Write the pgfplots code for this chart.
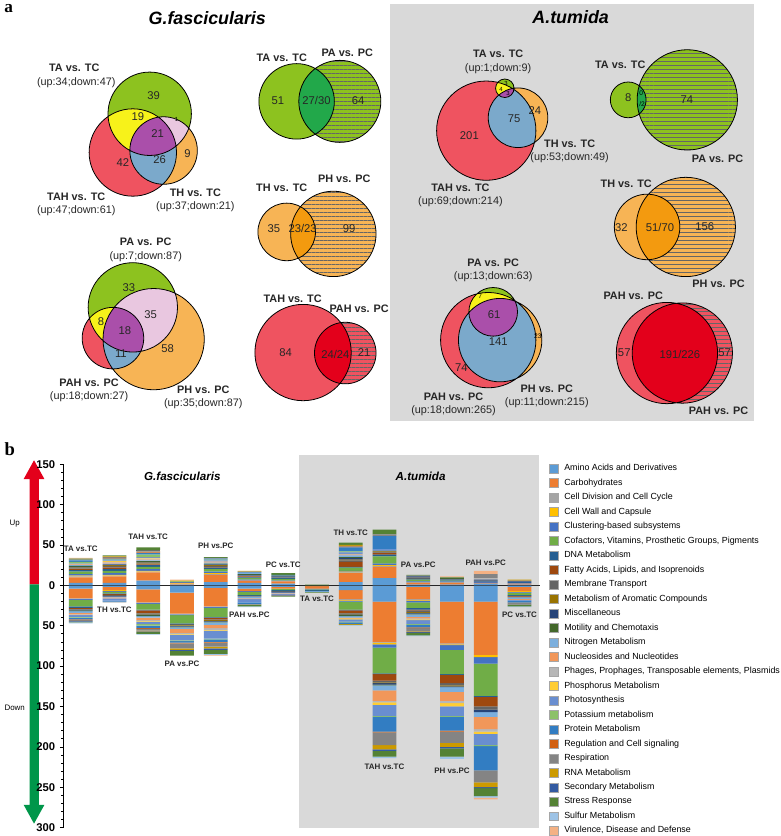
\documentclass[border=0pt]{standalone}
\usepackage{fontspec}
\setmainfont{Liberation Sans}
\newfontfamily\serifface{Liberation Serif}
\usepackage{pgfplots}
\pgfplotsset{compat=1.18}
\usepackage{pgfplotstable}
\usetikzlibrary{patterns.meta}
\newcommand\fs[1]{\fontsize{#1}{#1}\selectfont}

\definecolor{cat1}{HTML}{5B9BD5}\definecolor{cat2}{HTML}{ED7D31}\definecolor{cat3}{HTML}{A5A5A5}
\definecolor{cat4}{HTML}{FFC000}\definecolor{cat5}{HTML}{4472C4}\definecolor{cat6}{HTML}{70AD47}
\definecolor{cat7}{HTML}{255E91}\definecolor{cat8}{HTML}{9E480E}\definecolor{cat9}{HTML}{636363}
\definecolor{cat10}{HTML}{997300}\definecolor{cat11}{HTML}{264478}\definecolor{cat12}{HTML}{43682B}
\definecolor{cat13}{HTML}{7CAFDD}\definecolor{cat14}{HTML}{F1975A}\definecolor{cat15}{HTML}{B7B7B7}
\definecolor{cat16}{HTML}{FFCD33}\definecolor{cat17}{HTML}{698ED0}\definecolor{cat18}{HTML}{8CC168}
\definecolor{cat19}{HTML}{327DC2}\definecolor{cat20}{HTML}{D26012}\definecolor{cat21}{HTML}{848484}
\definecolor{cat22}{HTML}{CC9A00}\definecolor{cat23}{HTML}{335AA1}\definecolor{cat24}{HTML}{548235}
\definecolor{cat25}{HTML}{9DC3E6}\definecolor{cat26}{HTML}{F4B183}
\definecolor{vgreen}{HTML}{8DC21F}\definecolor{vred}{HTML}{EF5360}\definecolor{vorange}{HTML}{F7B455}
\definecolor{vyellow}{HTML}{F7F21A}\definecolor{vpurple}{HTML}{AA4FAA}\definecolor{vblue}{HTML}{7BA9CB}
\definecolor{vpink}{HTML}{E9C7E0}\definecolor{lgreen}{HTML}{22A84A}\definecolor{lorange}{HTML}{F39A0F}
\definecolor{lred}{HTML}{E3001B}\definecolor{bggray}{HTML}{D9D9D9}
\definecolor{arrred}{HTML}{E3001B}\definecolor{arrgreen}{HTML}{00964A}

\pgfplotstableread{
x c1 c2 c3 c4 c5 c6 c7 c8 c9 c10 c11 c12 c13 c14 c15 c16 c17 c18 c19 c20 c21 c22 c23 c24 c25 c26
1 3 7 1 1 2 3 2 1 1 1 1 1 1 1 0 0 1 2 2 0 1 0 0 1 0 1
2 3 8 1 1 2 3 2 2 2 1 1 0 1 1 1 1 1 1 1 1 1 1 0 1 0 0
3 6 10 1 1 2 3 2 1 1 1 1 1 1 1 1 1 1 3 2 1 1 1 1 3 0 0
4 1 1 0 1 1 1 0 0 0 0 0 0 0 0 0 0 0 0 0 0 0 1 0 0 0 1
5 4 9 1 1 2 3 2 1 1 1 1 1 1 1 1 0 1 1 1 0 1 0 0 1 0 0
6 3 3 0 0 1 2 1 1 1 0 1 1 1 0 0 0 0 0 1 0 1 1 0 0 0 0
7 2 3 0 0 1 2 1 0 1 0 1 1 0 0 0 0 0 0 1 0 0 0 0 2 0 0
8 0 0 0 0 0 0 0 0 0 0 0 0 0 0 0 0 0 0 0 0 0 0 0 1 0 0
9 4 11 1 1 1 4 1 6 2 1 2 1 2 1 1 0 2 1 5 1 1 1 0 3 0 0
10 9 14 1 1 2 9 2 2 1 1 1 0 1 0 0 0 1 0 16 0 2 0 0 6 0 0
11 1 2 1 0 1 2 1 0 2 0 1 0 0 0 0 0 0 0 0 0 1 0 0 1 0 0
12 1 2 1 0 1 1 1 0 1 0 0 1 0 0 0 0 0 0 0 0 0 0 0 1 0 1
13 2 1 0 0 1 0 1 0 1 0 1 0 0 0 2 0 0 0 0 0 5 0 0 0 0 4
14 1 1 0 0 1 0 1 0 0 0 1 0 0 0 0 0 0 0 0 0 1 1 0 0 0 0
}\uptable

\pgfplotstableread{
x c1 c2 c3 c4 c5 c6 c7 c8 c9 c10 c11 c12 c13 c14 c15 c16 c17 c18 c19 c20 c21 c22 c23 c24 c25 c26
1 -4 -12 -1 0 -1 -8 -2 -1 -1 0 -1 -1 -2 -2 -1 0 -2 -1 -2 -1 -1 0 -1 -1 -1 0
2 -2 -4 0 -1 -1 -2 -1 -1 -1 0 -1 0 -1 -1 0 0 -3 0 -1 0 -1 0 0 0 0 0
3 -5 -16 -1 0 -1 -7 -1 -3 -1 -1 -1 -1 -2 -3 -1 -1 -3 -2 -3 -1 -2 -1 -1 -2 -1 0
4 -9 -26 -1 0 -1 -10 -1 0 -1 -1 -1 -1 -2 -5 -1 -1 -7 -1 -2 -1 -6 -2 -1 -6 0 0
5 -3 -23 -1 0 -1 -11 -1 -2 -1 -1 -1 -1 -3 -4 -2 -1 -10 -1 -3 -1 -5 -2 -2 -5 -1 -1
6 -4 -3 0 0 -1 -4 -1 0 -1 0 0 0 -2 -1 0 0 -4 0 -2 0 -1 0 0 -2 -1 0
7 -2 -2 0 0 0 -2 -1 0 -1 0 -1 0 -1 -1 0 0 -1 0 0 0 -1 0 0 -1 0 0
8 -1 -3 0 0 -1 -1 -1 0 0 0 0 0 -1 0 0 0 0 0 0 0 0 0 0 -1 0 0
9 -6 -11 -1 -1 -1 -10 -1 -3 -1 -1 -1 -1 -2 -1 0 -1 -3 -1 -2 0 0 -1 0 0 -1 0
10 -20 -50 -1 -2 -4 -32 -1 -8 -2 -1 -2 -1 -6 -13 -2 -3 -14 -1 -18 -1 -16 -5 -2 -7 -2 0
11 -2 -15 -1 -1 -2 -7 -2 -1 -2 -1 -1 -1 -3 -2 -1 -1 -5 -1 -3 -1 -4 -1 -1 -3 -1 0
12 -20 -52 -1 -1 -6 -30 -1 -10 -3 -1 -1 0 -6 -11 -3 -4 -12 -1 -17 -1 -14 -5 -2 -10 -3 0
13 -20 -66 0 -3 -8 -40 -1 -12 -4 0 -3 0 -6 -15 -3 -3 -14 -1 -30 0 -15 -6 -1 -10 -2 -2
14 -2 -5 0 -1 -1 -3 -1 -1 -1 0 0 0 -2 -1 0 0 -1 0 -2 0 -3 0 0 -2 -1 0
}\downtable

\newcommand\vthree[6]{%
 \fill[vgreen] (axis cs:#1) circle[radius=#2];
 \fill[vred] (axis cs:#3) circle[radius=#4];
 \fill[vorange] (axis cs:#5) circle[radius=#6];
 \begin{scope}\clip (axis cs:#3) circle[radius=#4];\fill[vblue] (axis cs:#5) circle[radius=#6];\end{scope}
 \begin{scope}\clip (axis cs:#1) circle[radius=#2];\fill[vyellow] (axis cs:#3) circle[radius=#4];\fill[vpink] (axis cs:#5) circle[radius=#6];
   \clip (axis cs:#3) circle[radius=#4];\fill[vpurple] (axis cs:#5) circle[radius=#6];\end{scope}
 \draw[line width=0.6pt] (axis cs:#1) circle[radius=#2] (axis cs:#3) circle[radius=#4] (axis cs:#5) circle[radius=#6];}
\newcommand\vtwo[6]{%
 \fill[#5] (axis cs:#1) circle[radius=#2];
 \fill[#5] (axis cs:#3) circle[radius=#4];
 \fill[pattern={Lines[angle=0,distance=3pt,line width=0.45pt]},pattern color=black!60] (axis cs:#3) circle[radius=#4];
 \begin{scope}\clip (axis cs:#1) circle[radius=#2];\fill[#6] (axis cs:#3) circle[radius=#4];\end{scope}
 \draw[line width=0.6pt] (axis cs:#1) circle[radius=#2] (axis cs:#3) circle[radius=#4];}

\tikzset{lab/.style={font=\fs{8.2}\bfseries,text=black!85},ud/.style={font=\fs{8.2},text=black!85},
 num/.style={font=\fs{8.5},text=black!85},tiny/.style={font=\fs{4.5},inner sep=0pt},
 blab/.style={font=\fs{6}\bfseries,text=black!85}}

\pgfplotsset{barbase/.style={at={(46.875pt,3pt)}, anchor=south west, scale only axis,
 width=359.55pt, height=274.5pt, xmin=0.5, xmax=14.6, ymin=-300, ymax=150,
 ybar stacked, bar width=18pt, clip=false,
 every axis plot/.append style={draw=none}}}

\begin{document}
\begin{tikzpicture}
\begin{axis}[at={(0,0)}, anchor=south west, scale only axis, width=588pt, height=627pt,
 xmin=0, xmax=784, ymin=0, ymax=836, y dir=reverse, hide axis, clip=false]
\path (axis cs:0,0) rectangle (axis cs:784,836);
\fill[bggray] (axis cs:391,2) rectangle (axis cs:758,422);
\fill[bggray] (axis cs:299,457) rectangle (axis cs:541,832);
\node[font=\serifface\bfseries\fs{13}] at (axis cs:7,7) {a};
\node[font=\serifface\bfseries\fs{14}] at (axis cs:8,451) {b};
\node[font=\fs{13.5}\bfseries\itshape] at (axis cs:207,17) {G.fascicularis};
\node[font=\fs{13.5}\bfseries\itshape] at (axis cs:573,16) {A.tumida};
% ---- G top 3-way
\vthree{149,113}{42}{132,152}{44}{163,150}{34}
\node[lab] at (axis cs:73,67) {TA vs. TC}; \node[ud] at (axis cs:75,82) {(up:34;down:47)};
\node[num] at (axis cs:153,95) {39}; \node[num] at (axis cs:137,116) {19};
\node[num] at (axis cs:157,133) {21}; \node[num] at (axis cs:122,162) {42};
\node[num] at (axis cs:159,159) {26}; \node[num] at (axis cs:187,153) {9};
\node[tiny] at (axis cs:176,119) {1};
\node[lab] at (axis cs:75,197) {TAH vs. TC}; \node[ud] at (axis cs:75,211) {(up:47;down:61)};
\node[lab] at (axis cs:195,193) {TH vs. TC}; \node[ud] at (axis cs:195,207) {(up:37;down:21)};
% ---- G two-way
\vtwo{297,100.5}{38}{340.5,100.5}{41.3}{vgreen}{lgreen}
\node[lab] at (axis cs:282,57) {TA vs. TC}; \node[lab] at (axis cs:348,52) {PA vs. PC};
\node[num] at (axis cs:278,100) {51}; \node[num] at (axis cs:317,100) {27/30}; \node[num] at (axis cs:359,100) {64};
\vtwo{287,232}{29}{334,234}{43}{vorange}{lorange}
\node[lab] at (axis cs:282,188) {TH vs. TC}; \node[lab] at (axis cs:345,178) {PH vs. PC};
\node[num] at (axis cs:274,229) {35}; \node[num] at (axis cs:303,229) {23/23}; \node[num] at (axis cs:350,229) {99};
\vtwo{303.5,353.5}{48.5}{346,354}{31}{vred}{lred}
\node[lab] at (axis cs:293,299) {TAH vs. TC}; \node[lab] at (axis cs:360,309) {PAH vs. PC};
\node[num] at (axis cs:286,354) {84}; \node[num] at (axis cs:336,355) {24/24}; \node[num] at (axis cs:365,354) {21};
% ---- G bottom 3-way
\vthree{132,308}{45}{112,339}{31}{153,340}{51}
\node[lab] at (axis cs:145,242) {PA vs. PC}; \node[ud] at (axis cs:145,257) {(up:7;down:87)};
\node[num] at (axis cs:128,288) {33}; \node[num] at (axis cs:100,322) {8};
\node[num] at (axis cs:124,331) {18}; \node[num] at (axis cs:150,315) {35};
\node[num] at (axis cs:120,355) {11}; \node[num] at (axis cs:167,350) {58};
\node[lab] at (axis cs:88,384) {PAH vs. PC}; \node[ud] at (axis cs:88,398) {(up:18;down:27)};
\node[lab] at (axis cs:203,391) {PH vs. PC}; \node[ud] at (axis cs:203,405) {(up:35;down:87)};
% ---- A top 3-way
\vthree{506.7,87.3}{9.3}{488,130}{50}{520,117}{30}
\node[lab] at (axis cs:500,53) {TA vs. TC}; \node[ud] at (axis cs:500,68) {(up:1;down:9)};
\node[tiny] at (axis cs:508,82) {3}; \node[tiny] at (axis cs:503,88) {4}; \node[tiny] at (axis cs:510,93) {3};
\node[num] at (axis cs:471,135) {201}; \node[num] at (axis cs:516,118) {75}; \node[num] at (axis cs:537,110) {24};
\node[lab] at (axis cs:572,143) {TH vs. TC}; \node[ud] at (axis cs:572,157) {(up:53;down:49)};
\node[lab] at (axis cs:462,188) {TAH vs. TC}; \node[ud] at (axis cs:462,202) {(up:69;down:214)};
% ---- A two-way
\vtwo{631,99}{18}{690.5,99}{50.5}{vgreen}{lgreen}
\node[lab] at (axis cs:623,64) {TA vs. TC}; \node[lab] at (axis cs:721,158) {PA vs. PC};
\node[num] at (axis cs:631,97) {8}; \node[num] at (axis cs:690,99) {74};
\node[tiny,font=\fs{5}] at (axis cs:644,92) {0}; \node[tiny,font=\fs{5}] at (axis cs:645,103) {/2};
\vtwo{650,227}{33}{689,227}{50}{vorange}{lorange}
\node[lab] at (axis cs:629,183) {TH vs. TC}; \node[lab] at (axis cs:722,284) {PH vs. PC};
\node[num] at (axis cs:624,228) {32}; \node[num] at (axis cs:663,228) {51/70}; \node[num] at (axis cs:708,227) {156};
\vtwo{670,354}{51}{685.5,354}{50.5}{vred}{lred}
\node[lab] at (axis cs:636,296) {PAH vs. PC}; \node[lab] at (axis cs:722,412) {PAH vs. PC};
\node[num] at (axis cs:627,354) {57}; \node[num] at (axis cs:683,355) {191/226}; \node[num] at (axis cs:728,354) {57};
% ---- A bottom 3-way
\vthree{495,312.5}{24.5}{490,341}{48}{502,341}{42}
\node[lab] at (axis cs:495,263) {PA vs. PC}; \node[ud] at (axis cs:495,277) {(up:13;down:63)};
\node[num] at (axis cs:496,315) {61}; \node[num] at (axis cs:500,342) {141}; \node[num] at (axis cs:463,369) {74};
\node[tiny,font=\fs{5}] at (axis cs:540,337) {23}; \node[tiny,font=\fs{5}] at (axis cs:482,297) {7};
\node[lab] at (axis cs:455,398) {PAH vs. PC}; \node[ud] at (axis cs:455,412) {(up:18;down:265)};
\node[lab] at (axis cs:549,390) {PH vs. PC}; \node[ud] at (axis cs:549,404) {(up:11;down:215)};
% ---- arrows panel b
\fill[arrred] (axis cs:28,587) -- (axis cs:28,481) -- (axis cs:22,481) -- (axis cs:32.5,462) -- (axis cs:43,481) -- (axis cs:37.5,481) -- (axis cs:37.5,587) -- cycle;
\fill[arrgreen] (axis cs:28,587) -- (axis cs:28,809) -- (axis cs:22,809) -- (axis cs:32.5,828) -- (axis cs:43,809) -- (axis cs:37.5,809) -- (axis cs:37.5,587) -- cycle;
\node[font=\fs{6}] at (axis cs:13,526) {Up};
\node[font=\fs{6}] at (axis cs:13,711) {Down};
\end{axis}

\begin{axis}[barbase, hide axis]
\pgfplotsinvokeforeach{1,...,26}{\addplot[fill=cat#1] table[x=x,y=c#1]{\downtable};}
\end{axis}

\begin{axis}[barbase, axis x line=none, axis y line*=left, xtick=\empty,
 ytick={-300,-250,-200,-150,-100,-50,0,50,100,150},
 yticklabels={\textbf{300},\textbf{250},\textbf{200},\textbf{150},\textbf{100},\textbf{50},\textbf{0},\textbf{50},\textbf{100},\textbf{150}},
 yticklabel style={font=\fs{8.5}},
 minor y tick num=4, tick align=outside, major tick length=3pt, minor tick length=1.8pt,
 every tick/.style={black, line width=0.5pt}, y axis line style={black, line width=0.6pt},
 legend image code/.code={\draw[#1,draw=black!35,line width=0.3pt] (0pt,-3.3pt) rectangle (6.75pt,3.3pt);},
 legend cell align=left,
 legend style={at={(1.0189,1.0026)}, anchor=north west, draw=none, fill=none, font=\fs{6.7},
   inner sep=0pt, row sep=3.6pt, column sep=4pt, nodes={inner sep=0.5pt}},
 legend entries={{Amino Acids and Derivatives},{Carbohydrates},{Cell Division and Cell Cycle},{Cell Wall and Capsule},{Clustering-based subsystems},{Cofactors, Vitamins, Prosthetic Groups, Pigments},{DNA Metabolism},{Fatty Acids, Lipids, and Isoprenoids},{Membrane Transport},{Metabolism of Aromatic Compounds},{Miscellaneous},{Motility and Chemotaxis},{Nitrogen Metabolism},{Nucleosides and Nucleotides},{Phages, Prophages, Transposable elements, Plasmids},{Phosphorus Metabolism},{Photosynthesis},{Potassium metabolism},{Protein Metabolism},{Regulation and Cell signaling},{Respiration},{RNA Metabolism},{Secondary Metabolism},{Stress Response},{Sulfur Metabolism},{Virulence, Disease and Defense}}]
\pgfplotsinvokeforeach{1,...,26}{\addplot[fill=cat#1] table[x=x,y=c#1]{\uptable};}
\draw[black!85, line width=0.7pt] (axis cs:0.5,0) -- (axis cs:14.6,0);
\node[font=\fs{8.8}\bfseries\itshape] at (axis cs:4.01,135) {G.fascicularis};
\node[font=\fs{8.8}\bfseries\itshape] at (axis cs:11.07,135) {A.tumida};
\node[blab] at (axis cs:1,45) {TA vs.TC};
\node[blab] at (axis cs:2,-30) {TH vs.TC};
\node[blab] at (axis cs:3,60) {TAH vs.TC};
\node[blab] at (axis cs:4,-97) {PA vs.PC};
\node[blab] at (axis cs:5,49) {PH vs.PC};
\node[blab] at (axis cs:6,-37) {PAH vs.PC};
\node[blab] at (axis cs:7,26) {PC vs.TC};
\node[blab] at (axis cs:8,-17) {TA vs.TC};
\node[blab] at (axis cs:9,65) {TH vs.TC};
\node[blab] at (axis cs:10,-225) {TAH vs.TC};
\node[blab] at (axis cs:11,26) {PA vs.PC};
\node[blab] at (axis cs:12,-229) {PH vs.PC};
\node[blab] at (axis cs:13,28) {PAH vs.PC};
\node[blab] at (axis cs:14,-37) {PC vs.TC};
\end{axis}
\end{tikzpicture}
\end{document}
